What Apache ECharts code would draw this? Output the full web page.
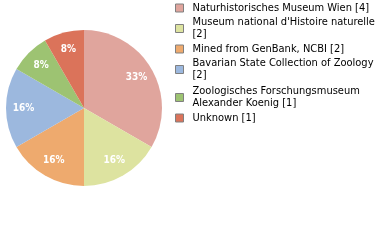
<!DOCTYPE html>
<html>
<head>
<meta charset="utf-8">
<script src="https://cdn.jsdelivr.net/npm/echarts@6/dist/echarts.min.js"></script>
<style>
  html, body { margin: 0; padding: 0; background: #fff; }
  #chart { width: 380px; height: 240px; }
</style>
</head>
<body>
<div id="chart"></div>
<script>
const sources = [
  'Naturhistorisches Museum Wien',
  "Museum national d'Histoire naturelle",
  'Mined from GenBank, NCBI',
  'Bavarian State Collection of Zoology',
  'Zoologisches Forschungsmuseum Alexander Koenig',
  'Unknown'
];
const counts = [4, 2, 2, 2, 1, 1];
// how the legend text is wrapped in the picture
const legendLabels = [
  'Naturhistorisches Museum Wien [4]',
  "Museum national d'Histoire naturelle\n[2]",
  'Mined from GenBank, NCBI [2]',
  'Bavarian State Collection of Zoology\n[2]',
  'Zoologisches Forschungsmuseum\nAlexander Koenig [1]',
  'Unknown [1]'
];
const colors = ['#e0a59d', '#dde3a0', '#eeaa6e', '#9cb8de', '#9dc372', '#db735a'];

const chart = echarts.init(document.getElementById('chart'));

const pieData = sources.map(function (name, i) {
  return { name: name, value: counts[i] };
});

const legendData = sources.map(function (name, i) {
  const twoLines = legendLabels[i].indexOf('\n') >= 0;
  return {
    name: name,
    textStyle: { padding: twoLines ? [0, 0, 3, 4] : [0, 0, 0, 4] }
  };
});

const option = {
  animation: false,
  color: colors,
  legend: {
    orient: 'vertical',
    left: 175,
    top: 2,
    padding: 0,
    itemWidth: 8,
    itemHeight: 8,
    itemGap: 1,
    icon: 'rect',
    itemStyle: { borderColor: '#808080', borderWidth: 1 },
    data: legendData,
    formatter: function (name) { return legendLabels[sources.indexOf(name)]; },
    textStyle: {
      fontFamily: 'DejaVu Sans Condensed',
      fontSize: 11,
      color: '#000',
      lineHeight: 12
    }
  },
  series: [
    {
      type: 'pie',
      center: [84, 108],
      radius: 78,
      data: pieData,
      label: { show: false },
      labelLine: { show: false },
      silent: true
    },
    {
      // transparent ring that only carries the percentage labels
      type: 'pie',
      center: [84, 108],
      radius: [37, 78],
      data: pieData,
      silent: true,
      itemStyle: { color: 'rgba(0,0,0,0)' },
      labelLine: { show: false },
      label: {
        show: true,
        position: 'inside',
        color: '#fff',
        fontFamily: 'DejaVu Sans Condensed',
        fontWeight: 'bold',
        fontSize: 10,
        formatter: function (p) { return Math.floor(p.percent) + '%'; }
      }
    }
  ]
};

chart.setOption(option);
</script>
</body>
</html>
